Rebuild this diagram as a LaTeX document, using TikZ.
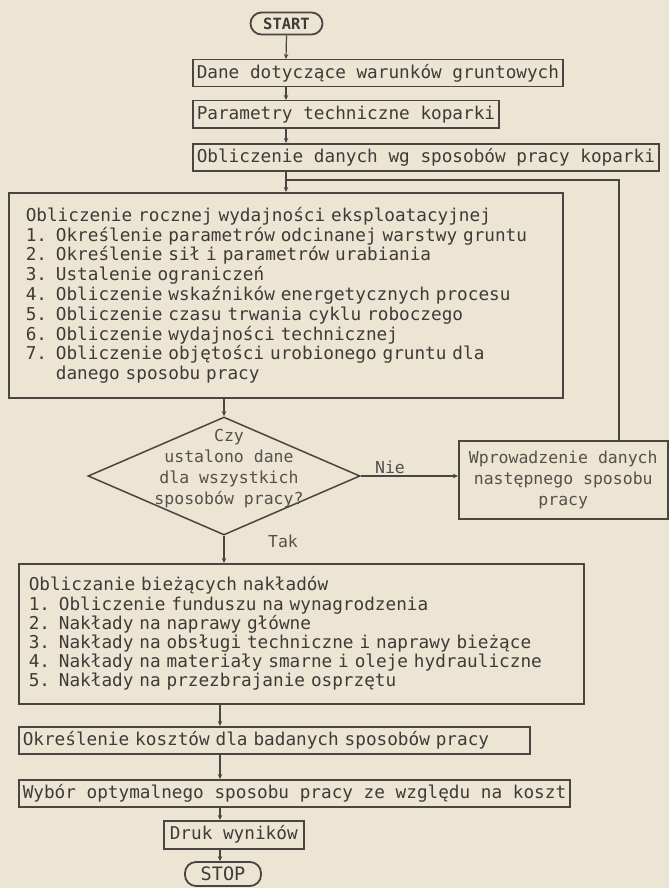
\documentclass[tikz,border=0pt]{standalone}
\usepackage{fontspec}
\setmonofont{DejaVu Sans Mono}
\usetikzlibrary{arrows.meta,shapes.geometric}
\definecolor{paper}{HTML}{ECE5D3}
\definecolor{ink}{HTML}{4A4541}
\definecolor{txt}{HTML}{3E3A37}
\definecolor{txtl}{HTML}{55504B}
\begin{document}
\begin{tikzpicture}[x=1pt,y=-1pt,
  every node/.style={font=\ttfamily\fontsize{17.7}{19.4}\selectfont, text=txt},
  box/.style={draw=ink, line width=1.5pt, inner xsep=4pt, inner ysep=0pt, minimum height=27pt, anchor=north west},
  bigbox/.style={draw=ink, line width=1.5pt, anchor=north west, align=left, inner ysep=0pt},
  term/.style={draw=ink, line width=1.8pt, rounded corners=11pt, minimum height=22pt, inner sep=0pt},
  conn/.style={draw=ink, line width=1.2pt, -{Stealth[length=5pt,width=4.5pt]}},
  plain/.style={draw=ink, line width=1.2pt},
  lbl/.style={text=txtl}]
\fill[paper] (0,0) rectangle (669,888);
\useasboundingbox (0,0) rectangle (669,888);

\coordinate (cx) at (286,0);
\coordinate (lx) at (619,0);
\coordinate (dx) at (220,0);

\node[term, minimum width=72pt, font=\ttfamily\bfseries\fontsize{15.5}{18}\selectfont] (start) at (286.5,23.5) {START};
\node[box] (b1) at (192,59) {Dane dotyczące warunków gruntowych};
\node[box] (b2) at (192,100) {Parametry techniczne koparki};
\node[box] (b3) at (192,143) {Obliczenie danych wg sposobów pracy koparki};

\node[bigbox, text width=520pt, inner xsep=17pt, minimum height=205pt, font=\ttfamily\fontsize{17.7}{19.8}\selectfont] (big) at (8,192)
{Obliczenie rocznej wydajności eksploatacyjnej\\
1. Określenie parametrów odcinanej warstwy gruntu\\
2. Określenie sił i parametrów urabiania\\
3. Ustalenie ograniczeń\\
4. Obliczenie wskaźników energetycznych procesu\\
5. Obliczenie czasu trwania cyklu roboczego\\
6. Obliczenie wydajności technicznej\\
7. Obliczenie objętości urobionego gruntu dla\\
\phantom{7. }danego sposobu pracy};

\node[draw=ink, line width=1.5pt, diamond, minimum width=272pt, minimum height=118pt, inner sep=0pt] (dia) at (224,476) {};
\node[lbl, align=center, font=\ttfamily\fontsize{16.5}{21}\selectfont] (diat) at (229,469)
{Czy\\ustalono dane\\dla wszystkich\\sposobów pracy?};

\node[draw=ink, line width=1.5pt, anchor=north west, minimum width=209pt, minimum height=78pt, align=center, inner sep=0pt, lbl, font=\ttfamily\fontsize{16.5}{21}\selectfont] (next) at (458,440)
{Wprowadzenie danych\\następnego sposobu\\pracy};

\node[lbl, font=\ttfamily\fontsize{16.5}{20}\selectfont] (nie) at (390,467) {Nie};
\node[lbl, font=\ttfamily\fontsize{16.5}{20}\selectfont] (tak) at (283,541) {Tak};

\node[bigbox, text width=545pt, inner xsep=10pt, minimum height=140pt, font=\ttfamily\fontsize{17.7}{19.2}\selectfont] (cost) at (18,563)
{Obliczanie bieżących nakładów\\
1. Obliczenie funduszu na wynagrodzenia\\
2. Nakłady na naprawy główne\\
3. Nakłady na obsługi techniczne i naprawy bieżące\\
4. Nakłady na materiały smarne i oleje hydrauliczne\\
5. Nakłady na przezbrajanie osprzętu\\[4pt]};

\node[box, text width=503pt, align=left] (b5) at (18,726) {Określenie kosztów dla badanych sposobów pracy};
\node[box] (b6) at (18,779) {Wybór optymalnego sposobu pracy ze względu na koszt\ };
\node[box, minimum height=28pt, minimum width=140pt] (b7) at (163,820) {Druk wyników};
\node[term, minimum width=76pt, minimum height=24pt, font=\ttfamily\fontsize{18.5}{20}\selectfont] (stop) at (223,874) {STOP};

% connectors
\draw[conn] (start.south) -- (cx |- b1.north);
\draw[conn] (cx |- b1.south) -- (cx |- b2.north);
\draw[conn] (cx |- b2.south) -- (cx |- b3.north);
\draw[conn] (cx |- b3.south) -- (cx |- big.north);
\coordinate (j) at (286,180);
\draw[plain] (lx |- next.north) |- (j);
\draw[conn] (big.south -| dia.north) -- (dia.north);
\draw[conn] (dia.east) -- (dia.east -| next.west);
\draw[conn] (dia.south) -- (dia.south |- cost.north);
\draw[conn] (dx |- cost.south) -- (dx |- b5.north);
\draw[conn] (dx |- b5.south) -- (dx |- b6.north);
\draw[conn] (dx |- b6.south) -- (dx |- b7.north);
\draw[conn] (dx |- b7.south) -- (dx |- stop.north);
\end{tikzpicture}
\end{document}
